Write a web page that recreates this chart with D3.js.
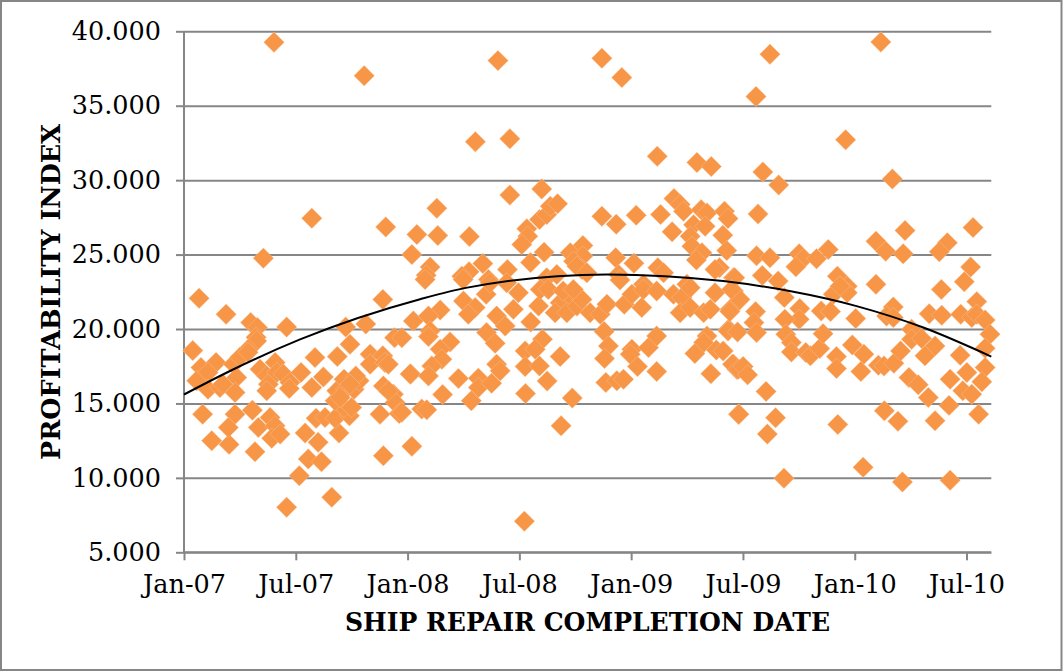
<!DOCTYPE html>
<html><head><meta charset="utf-8">
<script src="https://cdn.jsdelivr.net/npm/d3@7"></script>
<style>html,body{margin:0;padding:0;background:#fff}svg{display:block}</style>
</head><body><svg id="c" width="1063" height="671"></svg>
<script>
const xTickMonths=[0,6,12,18,24,30,36,42];
const xTickLabels=["Jan-07","Jul-07","Jan-08","Jul-08","Jan-09","Jul-09","Jan-10","Jul-10"];
const yTicks=[5,10,15,20,25,30,35,40];
const xTitle="SHIP REPAIR COMPLETION DATE";
const yTitle="PROFITABILITY INDEX";
// [months since Jan-07, profitability index]
const repairs=[
[4.83,39.26],[9.67,37.02],[6.86,27.44],[10.83,26.86],[12.5,26.35],[4.26,24.76],[12.23,25],[.81,22.06],[2.26,20.99],[10.67,21.99],[3.58,20.43],[3.94,20.1],[5.51,20.13],[8.68,20.13],[9.76,20.34],[12.31,20.54],[3.87,19.44],[11.3,19.42],
[.47,18.55],[8.91,18.97],[3.9,19.2],[3.45,18.64],[.91,17.41],[1.72,17.75],[2.65,17.64],[.68,16.52],[1.29,17.08],[1.29,15.96],[1.93,16.07],[2.83,16.74],[2.74,15.74],[2.09,16.29],[3,18.1],[3.44,18.44],[4.08,17.3],[4.89,17.75],[4.44,16.85],[4.98,17.08],[4.53,16.29],[4.44,15.85],[5.33,16.97],[5.69,16.41],[5.65,16],[6.28,17.08],[7.03,18.08],[7.48,16.78],[6.86,16.07],[8.23,18.15],[9.99,18.31],[9.99,17.64],[10.67,18.2],[10.79,17.75],[10.97,17.64],[12.17,16.97],[10.7,16.18],[11.24,15.62],[11.33,15.07],[10.52,14.28],[11.55,14.33],
[1,14.28],[1.49,12.5],[2.42,12.25],[2.74,14.28],[2.38,13.39],[3.67,14.55],[3.99,13.39],[3.81,11.76],[4.62,14.06],[4.89,13.5],[4.71,12.66],[5.16,12.94],[6.5,13.01],[7.09,14],[7.57,14.06],[7.2,12.39],[6.67,11.27],[7.38,11.09],[6.19,10.15],[5.51,8.03],[7.93,8.7],[8.32,13.01],[8.11,14],[8.88,14.17],[8.59,14.73],[9,14.73],[8.11,15.18],[8.2,15.85],[8.59,16.63],[8.68,15.96],[9.13,15.96],[9.4,16.52],[9.22,16.85],[8.91,16.29],[8.38,15.4],[12.23,12.12],[10.7,11.49],[10.97,15.85],[12.76,14.62],
[16.85,38.03],[22.43,38.19],[23.5,36.89],[15.64,32.58],[17.49,32.78],[25.4,31.6],[27.53,31.19],[28.3,30.91],[17.49,29],[19.2,29.41],[13.57,28.11],[13.62,26.28],[15.32,26.21],[13.21,24.16],[13,23.62],[15.3,23.85],[14.91,23.55],[16.04,24.4],[17.36,24],[16.34,23.33],[18.6,24.47],[19.33,25.16],[18.4,26.73],[18.45,26.23],[18.13,25.68],[19.08,27.35],[19.47,27.69],[19.66,28.24],[20.05,28.42],[22.43,27.57],[23.2,27.04],[24.27,27.64],[25.58,27.69],[26.2,26.53],[26.3,28.76],[26.63,28.36],[26.81,27.91],[27.35,27],[27.76,28.02],[28.07,27.8],[27.97,26.9],[29.01,27.91],[29.2,27.42],[27.17,26.23],[27.26,25.56],[28.92,26.3],[29.13,25.27],[27.8,25.12],[27.5,24.63],[28.74,24.12],[28.5,24],[23.17,24.79],[24.15,24.42],[25.43,24.12],[25.74,23.78],[23.32,23.67],[21.41,25.61],[20.73,25.12],[21.41,24.9],[20.91,24.56],[21.36,24],[21.09,24.22],[21.62,23.78],[19.47,23.45],[20.01,23.67],[24.66,23],[26.99,23],[29.49,23.45],
[12.94,23.33],[14.98,23.33],[15,21.88],[15.63,21.44],[15.26,20.99],[13.75,21.27],[13.12,20.87],[13.21,19.87],[13.12,19.49],[11.69,19.42],[14.28,19.13],[13.75,18.64],[13.84,17.97],[13.3,17.52],[12.14,16.97],[13.12,16.85],[14.73,16.67],[15.8,16.7],[15.8,16.07],[16.51,16.36],[16.78,17.64],[16.97,17.19],[13.88,15.6],[15.42,15.18],[13.03,14.57],[11.69,14.4],[16.24,19.76],[16.7,19.04],[16.78,20.87],[17.24,20.2],[17.68,21.32],[17.95,22.44],[16.22,22.33],[18.61,20.47],[19.03,21.54],[19.12,22.66],[18.31,18.53],[19.24,19.31],[18.85,18.64],[18.31,17.48],[19.08,17.52],[20.19,18.15],[19.49,16.5],[18.33,15.67],[20.84,15.36],[20.24,13.5],[18.27,7.09],[20.19,21.77],[19.92,21.1],[20.73,22.21],[20.55,21.1],[21.09,21.54],[21.36,21.99],[21.8,21.1],[22.34,20.99],[22.7,21.66],[23.63,21.66],[24.04,22.33],[24.66,22.66],[24.57,21.44],[25.37,22.55],[26.27,22.33],[26.72,22.11],[26.63,21.1],[27.17,22.78],[27.17,21.44],[27.89,21.1],[28.25,21.32],[28.5,22.44],[29.32,21.32],[29.49,22.55],[22.55,19.83],[22.78,18.86],[22.57,18.02],[22.64,16.41],[23.23,16.52],[23.59,16.63],[24.04,18.64],[23.95,18.31],[24.34,17.48],[24.93,18.75],[25.37,19.53],[25.37,17.15],[28.07,19.53],[27.89,19.09],[28.57,18.59],[27.42,18.35],[28.28,17],[29.23,19.98],[29.49,17.64],[29.67,17.3],[29.76,14.28],[19.55,22.66],[20.35,22.55],[20.9,22.66],[16.43,23.11],[17.32,23.11],[23.4,23.3],
[31.45,38.46],[37.4,39.28],[30.7,35.62],[35.51,32.71],[31.07,30.55],[31.92,29.68],[38.02,30.08],[30.81,27.73],[38.7,26.62],[42.35,26.82],[37.14,25.9],[37.66,25.23],[38.6,25.05],[40.97,25.79],[40.54,25.19],[42.22,24.16],[41.88,23.18],[30.73,24.92],[31.45,24.79],[33.02,25.05],[33.24,24.72],[32.84,24.18],[33.95,24.72],[34.58,25.34],[31.04,23.6],[31.89,23.22],[29.56,23.45],[35.07,23.55],[35.6,22.88],[37.14,23],[40.65,22.66],
[42.55,21.84],[38.07,21.48],[34.85,22.33],[35.6,22.44],[35.21,22.88],[32.22,22.11],[29.84,21.99],[29.39,22.66],[29.3,21.17],[30.68,21.17],[30.59,20.43],[33.05,21.37],[33.02,20.65],[32.25,20.65],[34.2,21.21],[34.7,21.17],[36.05,20.7],[37.71,20.87],[38.07,20.77],[39.05,19.98],[40,21.03],[40.67,20.92],[41.69,20.99],[42.28,20.77],[42.55,20.99],[43,20.6],[43.26,19.65],[43,18.71],[41.66,18.24],[43,17.41],[42.02,17.08],[41.12,16.63],[42.82,16.45],[41.8,15.85],[42.28,15.62],[39.95,15.4],[41.06,14.87],[42.65,14.28],[40.31,13.84],[37.59,14.51],[38.32,13.8],[35.09,13.59],[31.75,14.04],[29.78,14.28],[31.31,12.94],[31.24,15.81],[36.45,10.71],[32.2,9.98],[38.56,9.73],[41.12,9.84],[29.44,17.64],[29.75,17.3],[30.01,17.48],[30.25,16.92],[28.94,18.53],[29.2,19.87],[29.71,19.8],[30.73,19.76],[32.3,19.65],[32.6,19.09],[32.6,18.46],[33.37,18.42],[33.62,18.2],[34.12,18.69],[34.3,19.69],[35.02,18.15],[35.02,17.35],[35.87,18.93],[36.49,18.31],[36.33,17.15],[37.27,17.57],[37.57,17.52],[38.1,17.7],[38.46,18.53],[39.05,19.31],[39.59,19.36],[40.31,18.86],[39.77,18.2],[38.91,16.74],[39.41,16.25]
];
const trendMonths=[0,2.47,6.23,12.67,15.2,22.7,28.94,32.5,36.1,39.68,43.33];
const trendValues=[15.6,17.18,19.3,22,22.78,23.67,23.22,22.55,21.54,20.1,18.15];

const FONT='"DejaVu Serif",serif';
const svg=d3.select("#c");
const x=d3.scaleLinear().domain([0,43.33]).range([184,991.3]);
const y=d3.scaleLinear().domain([5,40]).range([552.3,31.3]);

svg.append("rect").attr("x",1).attr("y",1).attr("width",1060.5).attr("height",669)
  .attr("fill","#fff").attr("stroke","#868686").attr("stroke-width",2);

const gy=svg.append("g").attr("transform","translate(184,0)")
  .call(d3.axisLeft(y).tickValues(yTicks).tickFormat(d3.format(".3f")).tickSize(8).tickPadding(15));
gy.selectAll(".tick").append("line").attr("class","grid").attr("x1",0).attr("x2",x.range()[1]-184);
const gx=svg.append("g").attr("transform","translate(0,552.3)")
  .call(d3.axisBottom(x).tickValues(xTickMonths).tickFormat((d,i)=>xTickLabels[i]).tickSize(8).tickPadding(15));
gy.select(".domain").attr("d",`M0,${y(40)}V${y(5)}`);
gx.select(".domain").attr("d",`M184,0H${x.range()[1]}`);
svg.selectAll(".domain,.tick line").attr("stroke","#868686").attr("stroke-width",2).attr("fill","none");
svg.selectAll(".tick text").attr("font-family",FONT).attr("font-size",25.5).attr("fill","#000");

const sym=d3.symbol().type(d3.symbolSquare).size(210);
svg.append("g").selectAll("path").data(repairs).join("path")
  .attr("d",sym).attr("transform",d=>`translate(${x(d[0])},${y(d[1])}) rotate(45)`)
  .attr("fill","#f79646").attr("stroke","#fbc49a").attr("stroke-width",0.4);

const line=d3.line().x(d=>x(d[0])).y(d=>y(d[1])).curve(d3.curveMonotoneX);
svg.append("path").attr("d",line(trendMonths.map((m,i)=>[m,trendValues[i]])))
  .attr("fill","none").attr("stroke","#000").attr("stroke-width",2);

svg.append("text").attr("x",587.5).attr("y",631).attr("text-anchor","middle")
  .attr("font-family",FONT).attr("font-weight","bold").attr("font-size",26).attr("textLength",485).attr("lengthAdjust","spacingAndGlyphs").text(xTitle);
svg.append("text").attr("transform","translate(60,292) rotate(-90)").attr("text-anchor","middle")
  .attr("font-family",FONT).attr("font-weight","bold").attr("font-size",26).attr("textLength",336).attr("lengthAdjust","spacingAndGlyphs").text(yTitle);
</script></body></html>
